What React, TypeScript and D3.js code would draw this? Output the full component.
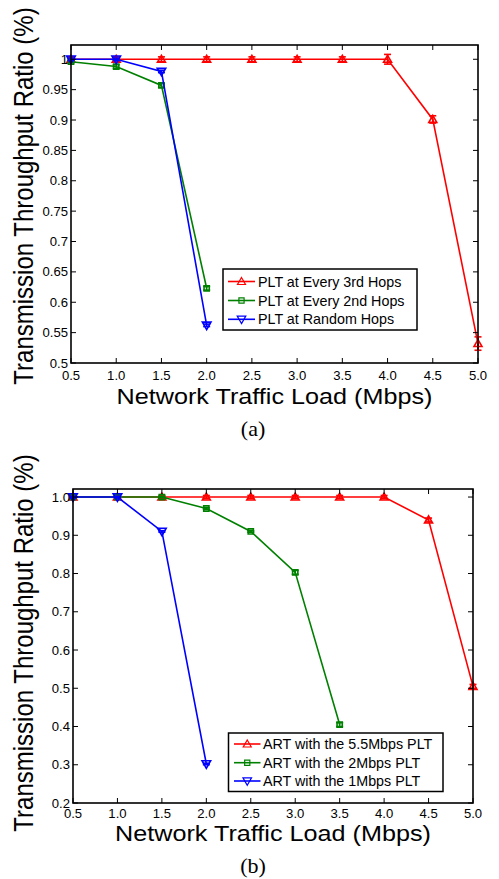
import React from "react";
import * as d3 from "d3";

// ---------- data ----------
const loads = [0.5, 1.0, 1.5, 2.0, 2.5, 3.0, 3.5, 4.0, 4.5, 5.0];
const xTickLabels = ["0.5", "1.0", "1.5", "2.0", "2.5", "3.0", "3.5", "4.0", "4.5", "5.0"];

// panel (a)
const aEvery3rd = [1.0, 1.0, 1.0, 1.0, 1.0, 1.0, 1.0, 1.0, 0.901, 0.532];
const aEvery3rdErr = [0.004, 0.004, 0.004, 0.004, 0.004, 0.004, 0.004, 0.008, 0.006, 0.011];
const aEvery2nd = [0.996, 0.988, 0.957, 0.623];
const aEvery2ndErr = [0.002, 0.003, 0.003, 0.003];
const aRandom = [1.0, 1.0, 0.98, 0.562];
const aRandomErr = [0.002, 0.002, 0.002, 0.002];
const aYTicks = [0.5, 0.55, 0.6, 0.65, 0.7, 0.75, 0.8, 0.85, 0.9, 0.95, 1];
const aYTickLabels = ["0.5", "0.55", "0.6", "0.65", "0.7", "0.75", "0.8", "0.85", "0.9", "0.95", "1"];
const aLegend = ["PLT at Every 3rd Hops", "PLT at Every 2nd Hops", "PLT at Random Hops"];

// panel (b)
const b55 = [1.0, 1.0, 1.0, 1.0, 1.0, 1.0, 1.0, 1.0, 0.94, 0.505];
const b55Err = [0.004, 0.004, 0.004, 0.004, 0.004, 0.004, 0.004, 0.004, 0.005, 0.005];
const b2 = [1.0, 1.0, 1.0, 0.97, 0.91, 0.803, 0.405];
const b2Err = [0.002, 0.002, 0.002, 0.002, 0.002, 0.005, 0.005];
const b1 = [1.0, 1.0, 0.91, 0.302];
const b1Err = [0.002, 0.002, 0.002, 0.002];
const bYTicks = [0.2, 0.3, 0.4, 0.5, 0.6, 0.7, 0.8, 0.9, 1.0];
const bYTickLabels = ["0.2", "0.3", "0.4", "0.5", "0.6", "0.7", "0.8", "0.9", "1.0"];
const bLegend = ["ART with the 5.5Mbps PLT", "ART with the 2Mbps PLT", "ART with the 1Mbps PLT"];

const RED = "#ff0000";
const GREEN = "#008000";
const BLUE = "#0000ff";
const FONT = "'Liberation Sans', Arial, sans-serif";

type Series = { vals: number[]; err: number[]; color: string; marker: "up" | "sq" | "down"; label: string };

function markerPath(kind: string, x: number, y: number) {
  if (kind === "up") {
    const s = 4;
    return `M${x},${y - s}L${x + s},${y + s * 0.75}L${x - s},${y + s * 0.75}Z`;
  }
  if (kind === "down") {
    const s = 4.3;
    return `M${x},${y + s}L${x + s},${y - s * 0.75}L${x - s},${y - s * 0.75}Z`;
  }
  const s = 2.6;
  return `M${x - s},${y - s}h${2 * s}v${2 * s}h${-2 * s}Z`;
}

function STxt(props: { x: number; y: number; sx?: number; size: number; anchor?: string; family?: string; children: any }) {
  const { x, y, sx = 1, size, anchor = "start", family = FONT, children } = props;
  return (
    <text transform={`translate(${x},${y}) scale(${sx},1)`} fontSize={size} fontFamily={family} textAnchor={anchor} fill="#000">
      {children}
    </text>
  );
}

function Panel(props: {
  left: number; right: number; top: number; bottom: number;
  yDomain: [number, number]; yTicks: number[]; yTickLabels: string[];
  series: Series[]; legend: { x0: number; y0: number; x1: number; y1: number; rows: number[]; lx0: number; lx1: number; tx: number };
  xTickBase: number; xLabelBase: number; capBase: number; cap: string; yLabelCenter: number;
}) {
  const { left, right, top, bottom, yDomain, yTicks, yTickLabels, series, legend } = props;
  const x = d3.scaleLinear().domain([0.5, 5.0]).range([left, right]);
  const y = d3.scaleLinear().domain(yDomain).range([bottom, top]);
  const tl = 5;
  const line = d3.line<[number, number]>().x((d) => x(d[0])).y((d) => y(d[1]));
  return (
    <g>
      {/* series */}
      {series.map((s, si) => {
        const pts: [number, number][] = s.vals.map((v, i) => [loads[i], v]);
        return (
          <g key={si}>
            <path d={line(pts) || ""} fill="none" stroke={s.color} strokeWidth={1.6} />
            {pts.map((p, i) => {
              const cx = x(p[0]);
              const e = s.err[i];
              const y1 = y(p[1] + e), y2 = y(p[1] - e);
              return (
                <g key={i} stroke={s.color} strokeWidth={1.6} fill="none">
                  <line x1={cx} x2={cx} y1={y1} y2={y2} />
                  <line x1={cx - 3.5} x2={cx + 3.5} y1={y1} y2={y1} />
                  <line x1={cx - 3.5} x2={cx + 3.5} y1={y2} y2={y2} />
                  <path d={markerPath(s.marker, cx, y(p[1]))} />
                </g>
              );
            })}
          </g>
        );
      })}
      {/* frame */}
      <rect x={left} y={top} width={right - left} height={bottom - top} fill="none" stroke="#000" strokeWidth={1.6} />
      {/* x ticks */}
      {loads.map((v, i) => (
        <g key={"xt" + i}>
          <line x1={x(v)} x2={x(v)} y1={bottom} y2={bottom - tl} stroke="#000" strokeWidth={1} />
          <line x1={x(v)} x2={x(v)} y1={top} y2={top + tl} stroke="#000" strokeWidth={1} />
          <STxt x={x(v)} y={props.xTickBase} size={12.5} sx={1.05} anchor="middle">{xTickLabels[i]}</STxt>
        </g>
      ))}
      {/* y ticks */}
      {yTicks.map((v, i) => (
        <g key={"yt" + i}>
          <line x1={left} x2={left + tl} y1={y(v)} y2={y(v)} stroke="#000" strokeWidth={1} />
          <line x1={right} x2={right - tl} y1={y(v)} y2={y(v)} stroke="#000" strokeWidth={1} />
          <STxt x={left - 3} y={y(v) + 4.5} size={12.5} sx={1.05} anchor="end">{yTickLabels[i]}</STxt>
        </g>
      ))}
      {/* legend */}
      <rect x={legend.x0} y={legend.y0} width={legend.x1 - legend.x0} height={legend.y1 - legend.y0} fill="#fff" stroke="#000" strokeWidth={1.5} />
      {series.map((s, i) => {
        const ly = legend.rows[i];
        const mx = (legend.lx0 + legend.lx1) / 2;
        return (
          <g key={"lg" + i}>
            <line x1={legend.lx0} x2={legend.lx1} y1={ly} y2={ly} stroke={s.color} strokeWidth={1.6} />
            <path d={markerPath(s.marker, mx, ly)} fill="none" stroke={s.color} strokeWidth={1.2} />
            <STxt x={legend.tx} y={ly + 5} size={14.3}>{s.label}</STxt>
          </g>
        );
      })}
      {/* axis titles */}
      <STxt x={(left + right) / 2} y={props.xLabelBase} size={22.5} sx={1.12} anchor="middle">Network Traffic Load (Mbps)</STxt>
      <text transform={`translate(33,${props.yLabelCenter}) rotate(-90) scale(1,1.12)`} fontSize={24} fontFamily={FONT} textAnchor="middle" fill="#000">
        Transmission Throughput Ratio (%)
      </text>
      <STxt x={253} y={props.capBase} size={20} sx={1.1} anchor="middle" family="'Liberation Serif', 'Times New Roman', serif">{props.cap}</STxt>
    </g>
  );
}

export default function App() {
  const aSeries: Series[] = [
    { vals: aEvery3rd, err: aEvery3rdErr, color: RED, marker: "up", label: aLegend[0] },
    { vals: aEvery2nd, err: aEvery2ndErr, color: GREEN, marker: "sq", label: aLegend[1] },
    { vals: aRandom, err: aRandomErr, color: BLUE, marker: "down", label: aLegend[2] },
  ];
  const bSeries: Series[] = [
    { vals: b55, err: b55Err, color: RED, marker: "up", label: bLegend[0] },
    { vals: b2, err: b2Err, color: GREEN, marker: "sq", label: bLegend[1] },
    { vals: b1, err: b1Err, color: BLUE, marker: "down", label: bLegend[2] },
  ];
  return (
    <svg width={499} height={879} style={{ position: "absolute", left: 0, top: 0, background: "#fff" }}>
      <rect width={499} height={879} fill="#fff" />
      <Panel
        left={71} right={478} top={45} bottom={363}
        yDomain={[0.5, 1.0235]} yTicks={aYTicks} yTickLabels={aYTickLabels}
        series={aSeries}
        legend={{ x0: 223, y0: 269, x1: 417, y1: 330, rows: [281.5, 300.5, 319.3], lx0: 228, lx1: 255, tx: 258 }}
        xTickBase={380} xLabelBase={404} capBase={436} cap="(a)" yLabelCenter={196}
      />
      <Panel
        left={73} right={473} top={489} bottom={803}
        yDomain={[0.2, 1.021]} yTicks={bYTicks} yTickLabels={bYTickLabels}
        series={bSeries}
        legend={{ x0: 228.5, y0: 733, x1: 443, y1: 791.5, rows: [744, 762.7, 781], lx0: 234, lx1: 260.5, tx: 263 }}
        xTickBase={818} xLabelBase={841} capBase={873} cap="(b)" yLabelCenter={643}
      />
    </svg>
  );
}
